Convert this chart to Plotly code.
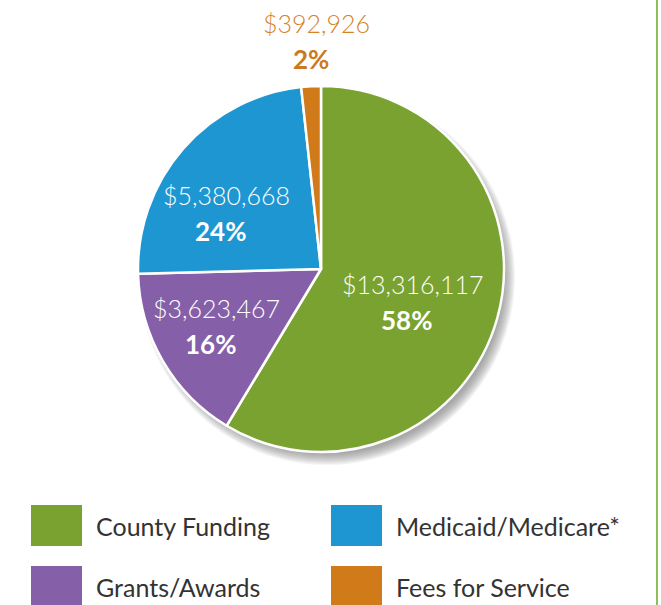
import math
import plotly.graph_objects as go

# ---- data ----
labels = ["County Funding", "Grants/Awards", "Medicaid/Medicare*", "Fees for Service"]
values = [13316117, 3623467, 5380668, 392926]
pct_labels = ["58%", "16%", "24%", "2%"]
colors = ["#7AA230", "#8560A8", "#1E96D2", "#D07A1A"]
legend_order = ["County Funding", "Medicaid/Medicare*", "Grants/Awards", "Fees for Service"]

# label styling (radius in px, angular nudge in degrees, colors)
label_radius = [97, 119, 110, 229]
label_nudge = [4, 2, -10, 2]
value_colors = ["white", "white", "white", "#D5832A"]
pct_colors = ["white", "white", "white", "#CB7A1E"]

W, H = 661, 605
cx_px, cy_px, R = 321, 269, 183
FONT = "Lato"

fig = go.Figure()
fig.add_trace(go.Pie(
    labels=labels, values=values, sort=False, direction="clockwise", rotation=0,
    marker=dict(colors=colors, line=dict(color="white", width=2.5)),
    textinfo="none", hoverinfo="skip", showlegend=False,
    domain=dict(x=[(cx_px - R) / W, (cx_px + R) / W],
                y=[1 - (cy_px + R) / H, 1 - (cy_px - R) / H]),
))

shapes = []
# soft drop shadow behind pie
for i in range(12):
    r = R - 6 + i
    shapes.append(dict(type="circle", xref="paper", yref="paper", layer="below",
                       x0=(cx_px + 6 - r) / W, x1=(cx_px + 6 + r) / W,
                       y0=1 - (cy_px + 8 + r) / H, y1=1 - (cy_px + 8 - r) / H,
                       fillcolor="rgba(110,110,110,0.07)", line=dict(width=0)))
# right border line
shapes.append(dict(type="line", xref="paper", yref="paper", x0=657 / W, x1=657 / W,
                   y0=0, y1=1, line=dict(color="#8DC05B", width=2)))

annotations = []
total = sum(values)
cum = 0
for i, v in enumerate(values):
    mid = (cum + v / 2) / total * 360 + label_nudge[i]
    cum += v
    th = math.radians(mid)
    px = cx_px + label_radius[i] * math.sin(th)
    py = cy_px - label_radius[i] * math.cos(th)
    annotations.append(dict(x=px / W, y=1 - (py - 17) / H, xref="paper", yref="paper",
                            text=f"${v:,}", showarrow=False, xanchor="center", yanchor="middle",
                            font=dict(family=FONT, size=25, color=value_colors[i], weight=300)))
    annotations.append(dict(x=(px - 6) / W, y=1 - (py + 19) / H, xref="paper", yref="paper",
                            text=f"<b>{pct_labels[i]}</b>", showarrow=False, xanchor="center",
                            yanchor="middle",
                            font=dict(family=FONT, size=26, color=pct_colors[i])))

# custom legend
col_x = [31, 331]
row_y = [505, 566]
sq_w, sq_h = 51, 41
for k, name in enumerate(legend_order):
    idx = labels.index(name)
    x0 = col_x[k % 2]
    y0 = row_y[k // 2]
    shapes.append(dict(type="rect", xref="paper", yref="paper",
                       x0=x0 / W, x1=(x0 + sq_w) / W,
                       y0=1 - (y0 + sq_h) / H, y1=1 - y0 / H,
                       fillcolor=colors[idx], line=dict(width=0)))
    annotations.append(dict(x=(x0 + 63) / W, y=1 - (y0 + sq_h / 2) / H, xref="paper", yref="paper",
                            text=name, showarrow=False, xanchor="left", yanchor="middle",
                            font=dict(family=FONT, size=25, color="#333333")))

fig.update_layout(width=W, height=H, margin=dict(l=0, r=0, t=0, b=0),
                  paper_bgcolor="white", plot_bgcolor="white",
                  shapes=shapes, annotations=annotations)
fig.write_html("out.html", config={"displayModeBar": False},
               post_script="document.body.style.margin='0px';document.body.style.overflow='hidden';")
